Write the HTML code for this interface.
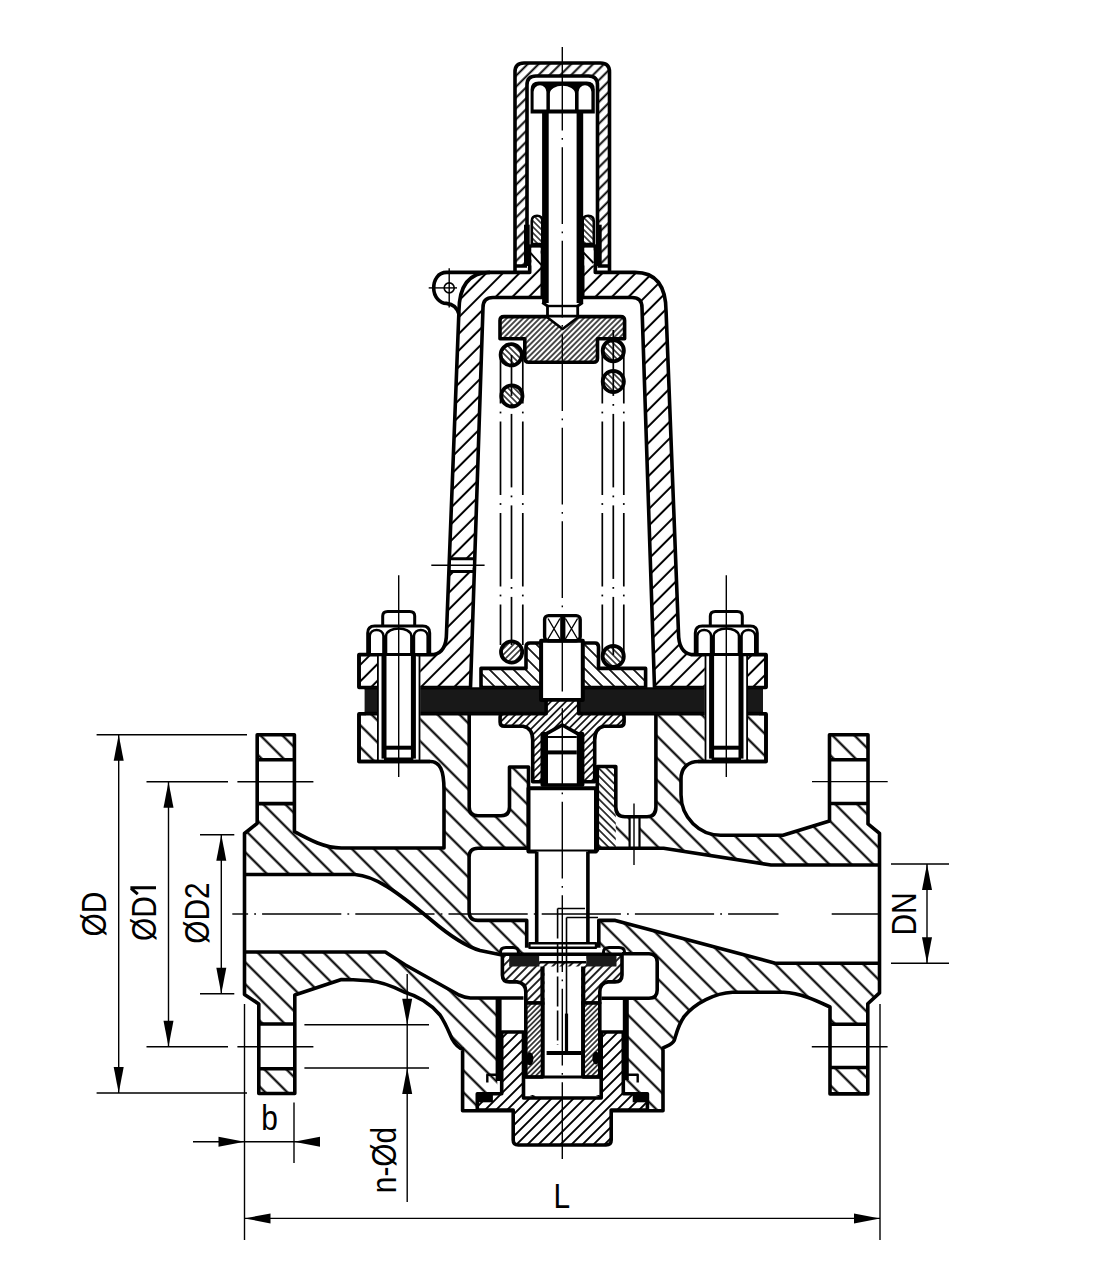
<!DOCTYPE html><html><head><meta charset="utf-8"><style>html,body{margin:0;padding:0;background:#fff;}svg{display:block;font-family:"Liberation Sans",sans-serif;}</style></head><body><svg width="1095" height="1275" viewBox="0 0 1095 1275" stroke-linecap="butt" stroke-linejoin="round"><defs><pattern id="pB" width="20" height="15.5563" patternUnits="userSpaceOnUse" patternTransform="rotate(45)"><line x1="-5" y1="9.192" x2="25" y2="9.192" stroke="#000" stroke-width="2.1"/><line x1="-5" y1="-6.364" x2="25" y2="-6.364" stroke="#000" stroke-width="2.1"/><line x1="-5" y1="24.749" x2="25" y2="24.749" stroke="#000" stroke-width="2.1"/></pattern><pattern id="pN" width="20" height="11.7380" patternUnits="userSpaceOnUse" patternTransform="rotate(-45)"><line x1="-5" y1="8.768" x2="25" y2="8.768" stroke="#000" stroke-width="2.0"/><line x1="-5" y1="-2.970" x2="25" y2="-2.970" stroke="#000" stroke-width="2.0"/><line x1="-5" y1="20.506" x2="25" y2="20.506" stroke="#000" stroke-width="2.0"/></pattern><pattern id="pC" width="20" height="7.7075" patternUnits="userSpaceOnUse" patternTransform="rotate(-45)"><line x1="-5" y1="2.263" x2="25" y2="2.263" stroke="#000" stroke-width="1.9"/><line x1="-5" y1="-5.445" x2="25" y2="-5.445" stroke="#000" stroke-width="1.9"/><line x1="-5" y1="9.970" x2="25" y2="9.970" stroke="#000" stroke-width="1.9"/></pattern><pattern id="pF" width="20" height="4.2426" patternUnits="userSpaceOnUse" patternTransform="rotate(-45)"><line x1="-5" y1="0.000" x2="25" y2="0.000" stroke="#000" stroke-width="1.3"/><line x1="-5" y1="-4.243" x2="25" y2="-4.243" stroke="#000" stroke-width="1.3"/><line x1="-5" y1="4.243" x2="25" y2="4.243" stroke="#000" stroke-width="1.3"/></pattern><pattern id="pFb" width="20" height="4.2426" patternUnits="userSpaceOnUse" patternTransform="rotate(45)"><line x1="-5" y1="0.000" x2="25" y2="0.000" stroke="#000" stroke-width="1.3"/><line x1="-5" y1="-4.243" x2="25" y2="-4.243" stroke="#000" stroke-width="1.3"/><line x1="-5" y1="4.243" x2="25" y2="4.243" stroke="#000" stroke-width="1.3"/></pattern><pattern id="pM" width="20" height="8.4853" patternUnits="userSpaceOnUse" patternTransform="rotate(45)"><line x1="-5" y1="0.000" x2="25" y2="0.000" stroke="#000" stroke-width="1.7"/><line x1="-5" y1="-8.485" x2="25" y2="-8.485" stroke="#000" stroke-width="1.7"/><line x1="-5" y1="8.485" x2="25" y2="8.485" stroke="#000" stroke-width="1.7"/></pattern><pattern id="pT" width="20" height="5.3033" patternUnits="userSpaceOnUse" patternTransform="rotate(-45)"><line x1="-5" y1="0.000" x2="25" y2="0.000" stroke="#000" stroke-width="1.6"/><line x1="-5" y1="-5.303" x2="25" y2="-5.303" stroke="#000" stroke-width="1.6"/><line x1="-5" y1="5.303" x2="25" y2="5.303" stroke="#000" stroke-width="1.6"/></pattern><pattern id="pG" width="20" height="5.4447" patternUnits="userSpaceOnUse" patternTransform="rotate(45)"><line x1="-5" y1="0.000" x2="25" y2="0.000" stroke="#000" stroke-width="1.5"/><line x1="-5" y1="-5.445" x2="25" y2="-5.445" stroke="#000" stroke-width="1.5"/><line x1="-5" y1="5.445" x2="25" y2="5.445" stroke="#000" stroke-width="1.5"/></pattern><pattern id="pDH" width="20" height="5.8690" patternUnits="userSpaceOnUse" patternTransform="rotate(-45)"><line x1="-5" y1="0.000" x2="25" y2="0.000" stroke="#000" stroke-width="1.7"/><line x1="-5" y1="-5.869" x2="25" y2="-5.869" stroke="#000" stroke-width="1.7"/><line x1="-5" y1="5.869" x2="25" y2="5.869" stroke="#000" stroke-width="1.7"/></pattern><pattern id="pP" width="20" height="7.7782" patternUnits="userSpaceOnUse" patternTransform="rotate(-45)"><line x1="-5" y1="0.000" x2="25" y2="0.000" stroke="#000" stroke-width="1.9"/><line x1="-5" y1="-7.778" x2="25" y2="-7.778" stroke="#000" stroke-width="1.9"/><line x1="-5" y1="7.778" x2="25" y2="7.778" stroke="#000" stroke-width="1.9"/></pattern><pattern id="pS" width="20" height="3.6062" patternUnits="userSpaceOnUse" patternTransform="rotate(-45)"><line x1="-5" y1="0.000" x2="25" y2="0.000" stroke="#000" stroke-width="1.4"/><line x1="-5" y1="-3.606" x2="25" y2="-3.606" stroke="#000" stroke-width="1.4"/><line x1="-5" y1="3.606" x2="25" y2="3.606" stroke="#000" stroke-width="1.4"/></pattern><pattern id="pU" width="20" height="3.8891" patternUnits="userSpaceOnUse" patternTransform="rotate(-45)"><line x1="-5" y1="0.000" x2="25" y2="0.000" stroke="#000" stroke-width="1.4"/><line x1="-5" y1="-3.889" x2="25" y2="-3.889" stroke="#000" stroke-width="1.4"/><line x1="-5" y1="3.889" x2="25" y2="3.889" stroke="#000" stroke-width="1.4"/></pattern></defs><rect width="1095" height="1275" fill="#fff"/><path d="M257.2,734.7 H294.4 V831.6 C310,840 325,848 341.4,848 H444 V790 C444,770 440,761.5 430,761.5 H359 V713.8 H766 V761.5 H698.6 C688,761.5 681,768 681,779 V794.8 C681,818 700,835.3 720.5,835.3 H783 L829.5,821 V734.8 H868 V823.9 L879.5,833.4 V992.9 L867.8,1003.8 V1093.9 H830 V1007 C815,1000 800,993 783.7,992.2 H732.5 C715,993 695,1003 684.3,1016.4 C678,1025 676,1035 674.2,1040.5 C672,1045 666,1046 663,1048 V1110.8 H462.6 V1049 C458,1048 455,1044 452,1038.8 C448,1030 446,1024 440,1015 C430,1003 418,996 404,992 C392,986 380,981.5 368.8,980.8 C358,980 350,979.5 341.4,979.5 L294.8,995 V1093.5 H258.8 V1004 L244.5,994.4 V833.5 L257.2,823.3 Z" fill="#fff" stroke="none" />
<path d="M257.2,734.7 H294.4 V831.6 C310,840 325,848 341.4,848 H444 V790 C444,770 440,761.5 430,761.5 H359 V713.8 H766 V761.5 H698.6 C688,761.5 681,768 681,779 V794.8 C681,818 700,835.3 720.5,835.3 H783 L829.5,821 V734.8 H868 V823.9 L879.5,833.4 V992.9 L867.8,1003.8 V1093.9 H830 V1007 C815,1000 800,993 783.7,992.2 H732.5 C715,993 695,1003 684.3,1016.4 C678,1025 676,1035 674.2,1040.5 C672,1045 666,1046 663,1048 V1110.8 H462.6 V1049 C458,1048 455,1044 452,1038.8 C448,1030 446,1024 440,1015 C430,1003 418,996 404,992 C392,986 380,981.5 368.8,980.8 C358,980 350,979.5 341.4,979.5 L294.8,995 V1093.5 H258.8 V1004 L244.5,994.4 V833.5 L257.2,823.3 Z" fill="url(#pB)" stroke="none" />
<path d="M258.5,759.8 H294.4 V803.6 H258.5 Z" fill="#fff" stroke="none"/>
<path d="M258.5,1024 H294.4 V1068.8 H258.5 Z" fill="#fff" stroke="none"/>
<path d="M830,759.8 H868 V803.5 H830 Z" fill="#fff" stroke="none"/>
<path d="M830,1024.3 H868 V1067.5 H830 Z" fill="#fff" stroke="none"/>
<path d="M244.5,874.5 H355 C375,876 395,890 431.8,920.5 C450,936 465,946 480,950.5 L499,953.7 H649 Q657.2,953.7 657.2,962 V990 Q657.2,998.3 649,998.3 H624.3 V1095 H497.3 V998 H470.3 C466,997.6 463,996.8 459,995 L405,964.7 L385.3,952 H244.5 Z" fill="#fff" stroke="none"/>
<path d="M478,848.2 H663.6 L771,865 H880 V963.2 H775.3 L615.3,920.4 H598.8 V953.7 H526.7 V920.4 H478 Q469.1,920.4 469.1,911.5 V857 Q469.1,848.2 478,848.2 Z" fill="#fff" stroke="none"/>
<path d="M469.2,712 H532.7 V767 H509.5 V807 Q509.5,815.7 501,815.7 H478 Q469.2,815.7 469.2,807 Z" fill="#fff" stroke="none"/>
<path d="M592.3,712 H655.9 V807 Q655.9,816.7 647,816.7 H625 Q616.4,816.7 616.4,807 V766.5 H592.3 Z" fill="#fff" stroke="none"/>
<path d="M527,766.5 H597.3 V851.5 H527 Z" fill="#fff" stroke="none"/>
<path d="M597.3,766.5 H615.8 V848.2 H597.3 Z" fill="#fff" stroke="none" />
<path d="M597.3,766.5 H615.8 V848.2 H597.3 Z" fill="url(#pG)" stroke="none" />
<path d="M629.6,816.7 H639.5 V848.2 H629.6 Z" fill="#fff" stroke="none"/>
<path d="M257.2,734.7 H294.4 V831.6 C310,840 325,848 341.4,848 H444 V790 C444,770 440,761.5 430,761.5 H359 V713.8 H766 V761.5 H698.6 C688,761.5 681,768 681,779 V794.8 C681,818 700,835.3 720.5,835.3 H783 L829.5,821 V734.8 H868 V823.9 L879.5,833.4 V992.9 L867.8,1003.8 V1093.9 H830 V1007 C815,1000 800,993 783.7,992.2 H732.5 C715,993 695,1003 684.3,1016.4 C678,1025 676,1035 674.2,1040.5 C672,1045 666,1046 663,1048 V1110.8 H462.6 V1049 C458,1048 455,1044 452,1038.8 C448,1030 446,1024 440,1015 C430,1003 418,996 404,992 C392,986 380,981.5 368.8,980.8 C358,980 350,979.5 341.4,979.5 L294.8,995 V1093.5 H258.8 V1004 L244.5,994.4 V833.5 L257.2,823.3 Z" fill="none" stroke="#000" stroke-width="3.6" />
<path d="M258.8,759.8 H294.4 M258.8,803.6 H294.4 M258.8,1024 H294.4 M258.8,1068.8 H294.4" fill="none" stroke="#000" stroke-width="3.6" />
<path d="M830,759.8 H868 M830,803.5 H868 M830,1024.3 H868 M830,1067.5 H868" fill="none" stroke="#000" stroke-width="3.6" />
<path d="M244.5,874.5 H355 C375,876 395,890 431.8,920.5 C450,936 465,946 480,950.5 L502,955" fill="none" stroke="#000" stroke-width="3.6" />
<path d="M244.5,952 H385.3 L405,964.7 L459,995 C463,996.8 466,997.6 470.3,998 H523.5" fill="none" stroke="#000" stroke-width="3.6" />
<path d="M498.6,998 V1081" fill="none" stroke="#000" stroke-width="6" />
<path d="M625.8,997 V1080" fill="none" stroke="#000" stroke-width="6" />
<path d="M601.4,998.3 H649 Q657.2,998.3 657.2,990 V962 Q657.2,953.7 649,953.7 H622" fill="none" stroke="#000" stroke-width="3.6" />
<path d="M478,848.2 H663.6 L771,865 H880" fill="none" stroke="#000" stroke-width="3.6" />
<path d="M880,963.2 H775.3 L615.3,920.4 H598.8 V947.8 M526.7,947.8 V920.4 H478 Q469.1,920.4 469.1,911.5 V857 Q469.1,848.2 478,848.2" fill="none" stroke="#000" stroke-width="3.6" />
<path d="M469.2,712 V807 Q469.2,815.7 478,815.7 H501 Q509.5,815.7 509.5,807 V767 H528.5 V851.5" fill="none" stroke="#000" stroke-width="3.6" />
<path d="M597.3,851.5 V766.5 H615.8 V807 Q615.8,816.7 625,816.7 H647 Q655.9,816.7 655.9,807 V712" fill="none" stroke="#000" stroke-width="3.6" />
<path d="M629.6,816.7 V848.2 M639.5,816.7 V848.2" fill="none" stroke="#000" stroke-width="2.2" />
<line x1="634" y1="803.6" x2="634" y2="865" stroke="#000" stroke-width="1.4" />
<path d="M359,654.6 H434 Q446.5,652 446.5,633 L458.9,312 Q458.9,272.4 490,272.4 H529.7 V246 H542.3 V297.5 H493 Q483,297.5 483,307.5 L470.5,687.5 H359 Z" fill="#fff" stroke="none" />
<path d="M359,654.6 H434 Q446.5,652 446.5,633 L458.9,312 Q458.9,272.4 490,272.4 H529.7 V246 H542.3 V297.5 H493 Q483,297.5 483,307.5 L470.5,687.5 H359 Z" fill="url(#pN)" stroke="none" />
<path d=" M766.0,654.6 H691.0 Q678.5,652 678.5,633 L666.1,312 Q666.1,272.4 635.0,272.4 H595.3 V246 H582.7 V297.5 H632.0 Q642.0,297.5 642.0,307.5 L654.5,687.5 H766.0 Z" fill="#fff" stroke="none" />
<path d=" M766.0,654.6 H691.0 Q678.5,652 678.5,633 L666.1,312 Q666.1,272.4 635.0,272.4 H595.3 V246 H582.7 V297.5 H632.0 Q642.0,297.5 642.0,307.5 L654.5,687.5 H766.0 Z" fill="url(#pN)" stroke="none" />
<path d="M359,654.6 H434 Q446.5,652 446.5,633 L458.9,312 Q458.9,272.4 490,272.4 H529.7 V246 H542.3 V297.5 H493 Q483,297.5 483,307.5 L470.5,687.5 H359 Z" fill="none" stroke="#000" stroke-width="3.6" />
<path d=" M766.0,654.6 H691.0 Q678.5,652 678.5,633 L666.1,312 Q666.1,272.4 635.0,272.4 H595.3 V246 H582.7 V297.5 H632.0 Q642.0,297.5 642.0,307.5 L654.5,687.5 H766.0 Z" fill="none" stroke="#000" stroke-width="3.6" />
<path d="M490,272.4 H446.5 C438,272.4 433.7,280 433.7,288 C433.7,297 440,303.4 446.5,303.4 C452,304 457,307 458.9,314" fill="none" stroke="#000" stroke-width="3.6" />
<circle cx="449.2" cy="287.9" r="5" fill="none" stroke="#000" stroke-width="1.6"/>
<line x1="428.7" y1="287.9" x2="457" y2="287.9" stroke="#000" stroke-width="1.4" />
<line x1="449.2" y1="268.2" x2="449.2" y2="307.5" stroke="#000" stroke-width="1.4" />
<path d="M515,271.4 V72 Q515,63 524,63 H600.5 Q609.5,63 609.5,72 V266 H597.5 V85 Q597.5,76 588.5,76 H536 Q527,76 527,85 V266 H515 Z" fill="#fff" stroke="none" />
<path d="M515,271.4 V72 Q515,63 524,63 H600.5 Q609.5,63 609.5,72 V266 H597.5 V85 Q597.5,76 588.5,76 H536 Q527,76 527,85 V266 H515 Z" fill="url(#pC)" stroke="none" />
<path d="M515,271.4 V72 Q515,63 524,63 H600.5 Q609.5,63 609.5,72 V271.4" fill="none" stroke="#000" stroke-width="3.6" />
<path d="M527,266 V85 Q527,76 536,76 H588.5 Q597.5,76 597.5,85 V266" fill="none" stroke="#000" stroke-width="3.6" />
<path d="M515,266 H527 M597.5,266 H609.5" fill="none" stroke="#000" stroke-width="3.6" />
<rect x="524" y="224.7" width="5.7" height="41.3" rx="0" fill="#000" stroke="#000" stroke-width="0" />
<rect x="596" y="224.7" width="5.7" height="41.3" rx="0" fill="#000" stroke="#000" stroke-width="0" />
<path d="M531.5,247.8 H540.5 V265.5 H531.5 Z" fill="#fff" stroke="none"/>
<path d="M584.5,247.8 H593.5 V265.5 H584.5 Z" fill="#fff" stroke="none"/>
<line x1="530.5" y1="253" x2="541.8" y2="265.3" stroke="#000" stroke-width="1.9" />
<line x1="583.4" y1="252.5" x2="593.5" y2="263" stroke="#000" stroke-width="1.9" />
<path d="M531.8,244 V221 Q531.8,215.8 537.05,215.8 Q542.3,215.8 542.3,221 V244 Z" fill="#fff" stroke="none" />
<path d="M531.8,244 V221 Q531.8,215.8 537.05,215.8 Q542.3,215.8 542.3,221 V244 Z" fill="url(#pFb)" stroke="none" />
<path d="M531.8,244 V221 Q531.8,215.8 537.05,215.8 Q542.3,215.8 542.3,221 V244 Z" fill="none" stroke="#000" stroke-width="2.6" />
<path d="M582.7,244 V221 Q582.7,215.8 588.25,215.8 Q593.8,215.8 593.8,221 V244 Z" fill="#fff" stroke="none" />
<path d="M582.7,244 V221 Q582.7,215.8 588.25,215.8 Q593.8,215.8 593.8,221 V244 Z" fill="url(#pFb)" stroke="none" />
<path d="M582.7,244 V221 Q582.7,215.8 588.25,215.8 Q593.8,215.8 593.8,221 V244 Z" fill="none" stroke="#000" stroke-width="2.6" />
<path d="M530.6,113.6 V89.6 Q530.6,81.6 538.6,81.6 H586.8 Q594.8,81.6 594.8,89.6 V113.6 Z" fill="#000"/>
<path d="M533.6,109.6 V91.7 A6.4,6.4 0 0 1 546.4,91.7 V109.6 Z M549.9,109.6 V93.4 A12.55,7.6 0 0 1 575,93.4 V109.6 Z M578.6,109.6 V91.7 A6.4,6.4 0 0 1 591.4,91.7 V109.6 Z" fill="#fff"/>
<rect x="542.1" y="113" width="6.6" height="190" rx="0" fill="#000" stroke="#000" stroke-width="0" />
<rect x="576.6" y="113" width="6.6" height="190" rx="0" fill="#000" stroke="#000" stroke-width="0" />
<path d="M542.3,302.5 L547.5,306 V316.6 M577.7,316.6 V306 L582.7,302.5" fill="none" stroke="#000" stroke-width="2.8" />
<path d="M547.5,306 H577.7" fill="none" stroke="#000" stroke-width="2.4" />
<path d="M504,316.6 H620.6 Q624.6,316.6 624.6,320.6 V338.8 H597.5 V358.2 Q597.5,362.2 593.5,362.2 H528.8 Q524.8,362.2 524.8,358.2 V338.8 H500 V320.6 Q500,316.6 504,316.6 Z" fill="#fff" stroke="none" />
<path d="M504,316.6 H620.6 Q624.6,316.6 624.6,320.6 V338.8 H597.5 V358.2 Q597.5,362.2 593.5,362.2 H528.8 Q524.8,362.2 524.8,358.2 V338.8 H500 V320.6 Q500,316.6 504,316.6 Z" fill="url(#pU)" stroke="none" />
<path d="M504,316.6 H620.6 Q624.6,316.6 624.6,320.6 V338.8 H597.5 V358.2 Q597.5,362.2 593.5,362.2 H528.8 Q524.8,362.2 524.8,358.2 V338.8 H500 V320.6 Q500,316.6 504,316.6 Z" fill="none" stroke="#000" stroke-width="3.6" />
<path d="M547.5,317.5 L562.6,329 L577.7,317.5 Z" fill="#fff" stroke="none"/>
<path d="M547.5,317.5 L562.6,329 L577.7,317.5" fill="none" stroke="#000" stroke-width="2.6" />
<circle cx="511.2" cy="354.8" r="10.6" fill="#fff" stroke="none"/>
<circle cx="511.2" cy="354.8" r="10.6" fill="url(#pFb)" stroke="#000" stroke-width="3.8"/>
<circle cx="511.9" cy="395.9" r="10.6" fill="#fff" stroke="none"/>
<circle cx="511.9" cy="395.9" r="10.6" fill="url(#pFb)" stroke="#000" stroke-width="3.8"/>
<circle cx="613.3" cy="350.7" r="10.6" fill="#fff" stroke="none"/>
<circle cx="613.3" cy="350.7" r="10.6" fill="url(#pFb)" stroke="#000" stroke-width="3.8"/>
<circle cx="613.3" cy="381.5" r="10.6" fill="#fff" stroke="none"/>
<circle cx="613.3" cy="381.5" r="10.6" fill="url(#pFb)" stroke="#000" stroke-width="3.8"/>
<circle cx="511.6" cy="652" r="10.6" fill="#fff" stroke="none"/>
<circle cx="511.6" cy="652" r="10.6" fill="url(#pF)" stroke="#000" stroke-width="3.8"/>
<circle cx="613.2" cy="656.4" r="10.6" fill="#fff" stroke="none"/>
<circle cx="613.2" cy="656.4" r="10.6" fill="url(#pFb)" stroke="#000" stroke-width="3.8"/>
<line x1="500.5" y1="355" x2="500.5" y2="403.5" stroke="#000" stroke-width="1.7" />
<line x1="500.5" y1="411.6" x2="500.5" y2="413.4" stroke="#000" stroke-width="1.7" />
<line x1="500.5" y1="421.5" x2="500.5" y2="495.0" stroke="#000" stroke-width="1.7" />
<line x1="500.5" y1="503.1" x2="500.5" y2="504.9" stroke="#000" stroke-width="1.7" />
<line x1="500.5" y1="513.0" x2="500.5" y2="586.5" stroke="#000" stroke-width="1.7" />
<line x1="500.5" y1="594.6" x2="500.5" y2="596.4" stroke="#000" stroke-width="1.7" />
<line x1="500.5" y1="604.5" x2="500.5" y2="645" stroke="#000" stroke-width="1.7" />
<line x1="511.5" y1="355" x2="511.5" y2="395.9" stroke="#000" stroke-width="1.7" />
<line x1="511.5" y1="404.0" x2="511.5" y2="405.8" stroke="#000" stroke-width="1.7" />
<line x1="511.5" y1="413.9" x2="511.5" y2="487.4" stroke="#000" stroke-width="1.7" />
<line x1="511.5" y1="495.5" x2="511.5" y2="497.3" stroke="#000" stroke-width="1.7" />
<line x1="511.5" y1="505.4" x2="511.5" y2="578.9" stroke="#000" stroke-width="1.7" />
<line x1="511.5" y1="587.0" x2="511.5" y2="588.8" stroke="#000" stroke-width="1.7" />
<line x1="511.5" y1="596.9" x2="511.5" y2="645" stroke="#000" stroke-width="1.7" />
<line x1="522.8" y1="355" x2="522.8" y2="403.5" stroke="#000" stroke-width="1.7" />
<line x1="522.8" y1="411.6" x2="522.8" y2="413.4" stroke="#000" stroke-width="1.7" />
<line x1="522.8" y1="421.5" x2="522.8" y2="495.0" stroke="#000" stroke-width="1.7" />
<line x1="522.8" y1="503.1" x2="522.8" y2="504.9" stroke="#000" stroke-width="1.7" />
<line x1="522.8" y1="513.0" x2="522.8" y2="586.5" stroke="#000" stroke-width="1.7" />
<line x1="522.8" y1="594.6" x2="522.8" y2="596.4" stroke="#000" stroke-width="1.7" />
<line x1="522.8" y1="604.5" x2="522.8" y2="645" stroke="#000" stroke-width="1.7" />
<line x1="602.3" y1="350" x2="602.3" y2="403.5" stroke="#000" stroke-width="1.7" />
<line x1="602.3" y1="411.6" x2="602.3" y2="413.4" stroke="#000" stroke-width="1.7" />
<line x1="602.3" y1="421.5" x2="602.3" y2="495.0" stroke="#000" stroke-width="1.7" />
<line x1="602.3" y1="503.1" x2="602.3" y2="504.9" stroke="#000" stroke-width="1.7" />
<line x1="602.3" y1="513.0" x2="602.3" y2="586.5" stroke="#000" stroke-width="1.7" />
<line x1="602.3" y1="594.6" x2="602.3" y2="596.4" stroke="#000" stroke-width="1.7" />
<line x1="602.3" y1="604.5" x2="602.3" y2="655" stroke="#000" stroke-width="1.7" />
<line x1="613.3" y1="330" x2="613.3" y2="395.9" stroke="#000" stroke-width="1.7" />
<line x1="613.3" y1="404.0" x2="613.3" y2="405.8" stroke="#000" stroke-width="1.7" />
<line x1="613.3" y1="413.9" x2="613.3" y2="487.4" stroke="#000" stroke-width="1.7" />
<line x1="613.3" y1="495.5" x2="613.3" y2="497.3" stroke="#000" stroke-width="1.7" />
<line x1="613.3" y1="505.4" x2="613.3" y2="578.9" stroke="#000" stroke-width="1.7" />
<line x1="613.3" y1="587.0" x2="613.3" y2="588.8" stroke="#000" stroke-width="1.7" />
<line x1="613.3" y1="596.9" x2="613.3" y2="655" stroke="#000" stroke-width="1.7" />
<line x1="623.8" y1="350" x2="623.8" y2="403.5" stroke="#000" stroke-width="1.7" />
<line x1="623.8" y1="411.6" x2="623.8" y2="413.4" stroke="#000" stroke-width="1.7" />
<line x1="623.8" y1="421.5" x2="623.8" y2="495.0" stroke="#000" stroke-width="1.7" />
<line x1="623.8" y1="503.1" x2="623.8" y2="504.9" stroke="#000" stroke-width="1.7" />
<line x1="623.8" y1="513.0" x2="623.8" y2="586.5" stroke="#000" stroke-width="1.7" />
<line x1="623.8" y1="594.6" x2="623.8" y2="596.4" stroke="#000" stroke-width="1.7" />
<line x1="623.8" y1="604.5" x2="623.8" y2="655" stroke="#000" stroke-width="1.7" />
<path d="M481,668.4 H526 V647 Q526,643 530,643 H595 Q598.5,643 598.5,647 V668.4 H645.6 V687.5 H481 Z" fill="#fff" stroke="none" />
<path d="M481,668.4 H526 V647 Q526,643 530,643 H595 Q598.5,643 598.5,647 V668.4 H645.6 V687.5 H481 Z" fill="url(#pM)" stroke="none" />
<path d="M481,668.4 H526 V647 Q526,643 530,643 H595 Q598.5,643 598.5,647 V668.4 H645.6 V687.5 H481 Z" fill="none" stroke="#000" stroke-width="3.6" />
<rect x="364.6" y="687.5" width="398.4" height="26.3" fill="#181818"/>
<path d="M364.6,688.5 H763 M364.6,712.8 H763" fill="none" stroke="#000" stroke-width="2" />
<rect x="541.1" y="640.8" width="41.7" height="59.2" rx="0" fill="#fff" stroke="#000" stroke-width="4" />
<rect x="544.6" y="615.6" width="35.6" height="25.2" rx="4" fill="#fff" stroke="#000" stroke-width="3.4" />
<rect x="560.2" y="617" width="5.2" height="23" fill="#000"/>
<path d="M548,618.5 L560,639 M560,618.5 L548,639 M565.4,618.5 L577.6,639 M577.6,618.5 L565.4,639" fill="none" stroke="#000" stroke-width="1.4" />
<path d="M384.0,611 H413.4 V760 H384.0 Z" fill="#fff" stroke="none"/>
<path d="M377.2,656.4 H420.2 V759.7 H377.2 Z" fill="#fff" stroke="none"/>
<path d="M377.9,656 V760 M419.5,656 V760" fill="none" stroke="#000" stroke-width="1.8" />
<path d="M367.7,654.6 V633 Q367.7,626 374.7,626 H422.7 Q429.7,626 429.7,633 V654.6 Z" fill="#fff" stroke="none"/>
<path d="M367.7,654.6 V633 Q367.7,626 374.7,626 H422.7 Q429.7,626 429.7,633 V654.6 Z" fill="none" stroke="#000" stroke-width="3" />
<path d="M369.7,654.6 V636 C370.2,628 383.0,628 383.5,636 V654.6 M386.0,654.6 V636 C387.0,626 410.4,626 411.4,636 V654.6 M413.9,654.6 V636 C414.4,628 427.2,628 427.7,636 V654.6" fill="none" stroke="#000" stroke-width="2.6" />
<path d="M382.7,626 V616 Q382.7,611.4 387.7,611.4 H409.7 Q414.7,611.4 414.7,616 V626" fill="none" stroke="#000" stroke-width="3" />
<rect x="381.5" y="654.6" width="5" height="104" rx="0" fill="#000" stroke="#000" stroke-width="0" />
<rect x="410.9" y="654.6" width="5" height="104" rx="0" fill="#000" stroke="#000" stroke-width="0" />
<path d="M384.0,747.7 H413.4" fill="none" stroke="#000" stroke-width="4" />
<path d="M384.0,759 H413.4" fill="none" stroke="#000" stroke-width="3" />
<line x1="398.7" y1="575.2" x2="398.7" y2="777" stroke="#000" stroke-width="1.4" />
<path d="M711.5999999999999,611 H741.0 V760 H711.5999999999999 Z" fill="#fff" stroke="none"/>
<path d="M704.8,656.4 H747.8 V759.7 H704.8 Z" fill="#fff" stroke="none"/>
<path d="M705.5,656 V760 M747.0999999999999,656 V760" fill="none" stroke="#000" stroke-width="1.8" />
<path d="M695.3,654.6 V633 Q695.3,626 702.3,626 H750.3 Q757.3,626 757.3,633 V654.6 Z" fill="#fff" stroke="none"/>
<path d="M695.3,654.6 V633 Q695.3,626 702.3,626 H750.3 Q757.3,626 757.3,633 V654.6 Z" fill="none" stroke="#000" stroke-width="3" />
<path d="M697.3,654.6 V636 C697.8,628 710.5999999999999,628 711.0999999999999,636 V654.6 M713.5999999999999,654.6 V636 C714.5999999999999,626 738.0,626 739.0,636 V654.6 M741.5,654.6 V636 C742.0,628 754.8,628 755.3,636 V654.6" fill="none" stroke="#000" stroke-width="2.6" />
<path d="M710.3,626 V616 Q710.3,611.4 715.3,611.4 H737.3 Q742.3,611.4 742.3,616 V626" fill="none" stroke="#000" stroke-width="3" />
<rect x="709.0999999999999" y="654.6" width="5" height="104" rx="0" fill="#000" stroke="#000" stroke-width="0" />
<rect x="738.5" y="654.6" width="5" height="104" rx="0" fill="#000" stroke="#000" stroke-width="0" />
<path d="M711.5999999999999,747.7 H741.0" fill="none" stroke="#000" stroke-width="4" />
<path d="M711.5999999999999,759 H741.0" fill="none" stroke="#000" stroke-width="3" />
<line x1="726.3" y1="575.2" x2="726.3" y2="777" stroke="#000" stroke-width="1.4" />
<path d="M359,654.6 V687.5 M359,713.8 V761.5 H430" fill="none" stroke="#000" stroke-width="3.6" />
<path d="M766,654.6 V687.5 M766,713.8 V761.5 H698" fill="none" stroke="#000" stroke-width="3.6" />
<path d="M359,687.5 H366 M359,713.8 H366 M759,687.5 H766 M759,713.8 H766" fill="none" stroke="#000" stroke-width="3" />
<path d="M546.1,700 H578.7 V713.8 H620 Q624.1,713.8 624.1,717 V722 Q624.1,726.2 620,726.2 H604 Q594.7,728 594.7,740 V781.8 H532.7 V740 Q532.7,728 523,726.2 H504.2 Q500.1,726.2 500.1,722 V717 Q500.1,713.8 504.2,713.8 H546.1 Z" fill="#fff" stroke="none" />
<path d="M546.1,700 H578.7 V713.8 H620 Q624.1,713.8 624.1,717 V722 Q624.1,726.2 620,726.2 H604 Q594.7,728 594.7,740 V781.8 H532.7 V740 Q532.7,728 523,726.2 H504.2 Q500.1,726.2 500.1,722 V717 Q500.1,713.8 504.2,713.8 H546.1 Z" fill="url(#pT)" stroke="none" />
<path d="M546.1,700 H578.7 V713.8 H620 Q624.1,713.8 624.1,717 V722 Q624.1,726.2 620,726.2 H604 Q594.7,728 594.7,740 V781.8 H532.7 V740 Q532.7,728 523,726.2 H504.2 Q500.1,726.2 500.1,722 V717 Q500.1,713.8 504.2,713.8 H546.1 Z" fill="none" stroke="#000" stroke-width="3.6" />
<path d="M542.3,785 V733.9 H546.1 L562.3,725 L578.1,733.9 H582.6 V785 Z" fill="#fff" stroke="none"/>
<path d="M542.3,785 V733.9 H546.1 L562.3,725 L578.1,733.9 H582.6 V785 Z" fill="none" stroke="#000" stroke-width="3.6" />
<rect x="542.3" y="735" width="5.7" height="50" fill="#000"/><rect x="576.8" y="735" width="5.8" height="50" fill="#000"/>
<path d="M548,737 H576.8" fill="none" stroke="#000" stroke-width="2" />
<path d="M548,752.4 H576.8" fill="none" stroke="#000" stroke-width="4" />
<rect x="528.5" y="788.2" width="67.5" height="63.3" rx="0" fill="#fff" stroke="#000" stroke-width="4" />
<path d="M536.7,851.5 H587.9 V943.2 H536.7 Z" fill="#fff" stroke="none"/>
<path d="M536.7,851.5 V943.2 M587.9,851.5 V943.2" fill="none" stroke="#000" stroke-width="3.6" />
<rect x="529.4" y="943.2" width="66.6" height="4.6" rx="0" fill="#fff" stroke="#000" stroke-width="2.4" />
<path d="M502.4,954.2 H622 V975 Q622,981.9 615,981.9 H608 Q599.8,983 599.8,992 V1003 H525.8 V992 Q525.8,983 517,981.9 H509.4 Q502.4,981.9 502.4,975 Z" fill="#fff" stroke="none" />
<path d="M502.4,954.2 H622 V975 Q622,981.9 615,981.9 H608 Q599.8,983 599.8,992 V1003 H525.8 V992 Q525.8,983 517,981.9 H509.4 Q502.4,981.9 502.4,975 Z" fill="url(#pDH)" stroke="none" />
<path d="M502.4,954.2 H622 V975 Q622,981.9 615,981.9 H608 Q599.8,983 599.8,992 V1003 H525.8 V992 Q525.8,983 517,981.9 H509.4 Q502.4,981.9 502.4,975 Z" fill="none" stroke="#000" stroke-width="3.6" />
<path d="M500.5,954.2 V952 Q500.5,947.4 506,947.4 H513 Q518.4,947.4 518.4,952 V954.2 M603.5,954.2 V952 Q603.5,947.4 609,947.4 H619 Q624.5,947.4 624.5,952 V954.2" fill="none" stroke="#000" stroke-width="3" />
<rect x="509.2" y="956" width="30.2" height="10.5" fill="#1a1a1a"/>
<rect x="586.2" y="956" width="30.3" height="10.5" fill="#1a1a1a"/>
<path d="M539.4,956 H586.2 V962.2 H539.4 Z" fill="#fff" stroke="none"/>
<path d="M539.4,962.2 H586.2" fill="none" stroke="#000" stroke-width="2.4" />
<path d="M544.5,966.5 H581 V1098 H544.5 Z" fill="#fff" stroke="none"/>
<path d="M542.5,966.5 V1077 M583.2,966.5 V1077" fill="none" stroke="#000" stroke-width="4.2" />
<path d="M501.7,1032 H523.5 V1098 H601.2 V1032 H623.3 V1093.8 H647.4 V1110 H611.2 V1140 Q611.2,1145 606,1145 H518.4 Q513.2,1145 513.2,1140 V1110 H477.3 V1093.8 H501.7 Z" fill="#fff" stroke="none" />
<path d="M501.7,1032 H523.5 V1098 H601.2 V1032 H623.3 V1093.8 H647.4 V1110 H611.2 V1140 Q611.2,1145 606,1145 H518.4 Q513.2,1145 513.2,1140 V1110 H477.3 V1093.8 H501.7 Z" fill="url(#pP)" stroke="none" />
<path d="M501.7,1032 H523.5 V1098 H601.2 V1032 H623.3 V1093.8 H647.4 V1110 H611.2 V1140 Q611.2,1145 606,1145 H518.4 Q513.2,1145 513.2,1140 V1110 H477.3 V1093.8 H501.7 Z" fill="none" stroke="#000" stroke-width="3.6" />
<path d="M525.8,1003 H542.5 V1077 H525.8 Z" fill="#fff" stroke="none" />
<path d="M525.8,1003 H542.5 V1077 H525.8 Z" fill="url(#pS)" stroke="none" />
<path d="M525.8,1003 H542.5 V1077 H525.8 Z" fill="none" stroke="#000" stroke-width="3.6" />
<path d="M583.2,1003 H599.8 V1077 H583.2 Z" fill="#fff" stroke="none" />
<path d="M583.2,1003 H599.8 V1077 H583.2 Z" fill="url(#pS)" stroke="none" />
<path d="M583.2,1003 H599.8 V1077 H583.2 Z" fill="none" stroke="#000" stroke-width="3.6" />
<path d="M523.5,1077 H601.2" fill="none" stroke="#000" stroke-width="3" />
<ellipse cx="529.8" cy="1058.8" rx="3.6" ry="6.5" fill="#000"/><ellipse cx="596" cy="1058" rx="3.6" ry="6.5" fill="#000"/>
<rect x="477.4" y="1093.8" width="15.5" height="8.5" fill="#000"/><rect x="632.7" y="1093.8" width="14.7" height="8.5" fill="#000"/>
<path d="M487.3,1082.5 V1074.8 H498.5 M637.7,1082.5 V1074.8 H626.5" fill="none" stroke="#000" stroke-width="2.4" />
<path d="M546.6,1053 H581" fill="none" stroke="#000" stroke-width="4" />
<path d="M557.6,908.6 H585 M566.5,917.6 H598" fill="none" stroke="#000" stroke-width="1.5" />
<line x1="557.6" y1="908.6" x2="557.6" y2="1045" stroke="#000" stroke-width="1.6" stroke-dasharray="30,4"/>
<line x1="566.5" y1="917.6" x2="566.5" y2="1052" stroke="#000" stroke-width="1.6" />
<line x1="566.5" y1="1013.6" x2="566.5" y2="1051.6" stroke="#000" stroke-width="3.2" />
<line x1="96.6" y1="734.7" x2="247" y2="734.7" stroke="#000" stroke-width="1.4" />
<line x1="96.6" y1="1093" x2="247" y2="1093" stroke="#000" stroke-width="1.4" />
<line x1="118.7" y1="734.7" x2="118.7" y2="1093" stroke="#000" stroke-width="1.4" />
<polygon points="118.7,734.7 113.7,760.7 123.7,760.7" fill="#000"/>
<polygon points="118.7,1093 113.7,1067 123.7,1067" fill="#000"/>
<line x1="146.5" y1="781.7" x2="228" y2="781.7" stroke="#000" stroke-width="1.4" />
<line x1="237.4" y1="781.7" x2="313.4" y2="781.7" stroke="#000" stroke-width="1.4" />
<line x1="146.5" y1="1046.7" x2="228" y2="1046.7" stroke="#000" stroke-width="1.4" />
<line x1="237.4" y1="1046.7" x2="313.4" y2="1046.7" stroke="#000" stroke-width="1.4" />
<line x1="168.5" y1="781.7" x2="168.5" y2="1046.7" stroke="#000" stroke-width="1.4" />
<polygon points="168.5,781.7 163.5,807.7 173.5,807.7" fill="#000"/>
<polygon points="168.5,1046.7 163.5,1020.7 173.5,1020.7" fill="#000"/>
<line x1="200" y1="834.7" x2="234.3" y2="834.7" stroke="#000" stroke-width="1.4" />
<line x1="200" y1="993.7" x2="234.3" y2="993.7" stroke="#000" stroke-width="1.4" />
<line x1="221.3" y1="834.7" x2="221.3" y2="993.7" stroke="#000" stroke-width="1.4" />
<polygon points="221.3,834.7 216.3,860.7 226.3,860.7" fill="#000"/>
<polygon points="221.3,993.7 216.3,967.7 226.3,967.7" fill="#000"/>
<line x1="891" y1="864" x2="949" y2="864" stroke="#000" stroke-width="1.4" />
<line x1="891" y1="963.2" x2="949" y2="963.2" stroke="#000" stroke-width="1.4" />
<line x1="927" y1="864" x2="927" y2="963.2" stroke="#000" stroke-width="1.4" />
<polygon points="927,864 922,890 932,890" fill="#000"/>
<polygon points="927,963.2 922,937.2 932,937.2" fill="#000"/>
<line x1="244.5" y1="1004" x2="244.5" y2="1240" stroke="#000" stroke-width="1.4" />
<line x1="880" y1="1004" x2="880" y2="1240" stroke="#000" stroke-width="1.4" />
<line x1="244.5" y1="1218.4" x2="880" y2="1218.4" stroke="#000" stroke-width="1.4" />
<polygon points="244.5,1218.4 270.5,1213.4 270.5,1223.4" fill="#000"/>
<polygon points="880,1218.4 854,1213.4 854,1223.4" fill="#000"/>
<line x1="294" y1="1102.5" x2="294" y2="1163" stroke="#000" stroke-width="1.4" />
<line x1="193" y1="1141.7" x2="320" y2="1141.7" stroke="#000" stroke-width="1.4" />
<polygon points="244.5,1141.7 218.5,1136.7 218.5,1146.7" fill="#000"/>
<polygon points="294,1141.7 320,1136.7 320,1146.7" fill="#000"/>
<line x1="304.4" y1="1024.7" x2="429" y2="1024.7" stroke="#000" stroke-width="1.4" />
<line x1="304.4" y1="1068" x2="429" y2="1068" stroke="#000" stroke-width="1.4" />
<line x1="407.2" y1="974" x2="407.2" y2="1202" stroke="#000" stroke-width="1.4" />
<polygon points="407.2,1024.7 402.2,998.7 412.2,998.7" fill="#000"/>
<polygon points="407.2,1068 402.2,1094 412.2,1094" fill="#000"/>
<line x1="812" y1="781.6" x2="887.7" y2="781.6" stroke="#000" stroke-width="1.4" />
<line x1="811.8" y1="1046.7" x2="887.6" y2="1046.7" stroke="#000" stroke-width="1.4" />
<line x1="232.3" y1="914" x2="248.1" y2="914" stroke="#000" stroke-width="1.4" />
<line x1="254.2" y1="914" x2="256.0" y2="914" stroke="#000" stroke-width="1.4" />
<line x1="262.1" y1="914" x2="341.3" y2="914" stroke="#000" stroke-width="1.4" />
<line x1="347.4" y1="914" x2="349.2" y2="914" stroke="#000" stroke-width="1.4" />
<line x1="355.3" y1="914" x2="434.5" y2="914" stroke="#000" stroke-width="1.4" />
<line x1="440.6" y1="914" x2="442.4" y2="914" stroke="#000" stroke-width="1.4" />
<line x1="448.5" y1="914" x2="527.7" y2="914" stroke="#000" stroke-width="1.4" />
<line x1="533.8" y1="914" x2="535.6" y2="914" stroke="#000" stroke-width="1.4" />
<line x1="541.7" y1="914" x2="620.9" y2="914" stroke="#000" stroke-width="1.4" />
<line x1="627.0" y1="914" x2="628.8" y2="914" stroke="#000" stroke-width="1.4" />
<line x1="634.9" y1="914" x2="714.1" y2="914" stroke="#000" stroke-width="1.4" />
<line x1="720.2" y1="914" x2="722.0" y2="914" stroke="#000" stroke-width="1.4" />
<line x1="728.1" y1="914" x2="778.5" y2="914" stroke="#000" stroke-width="1.4" />
<line x1="831.7" y1="914" x2="879" y2="914" stroke="#000" stroke-width="1.4" />
<line x1="562.3" y1="47" x2="562.3" y2="130.6" stroke="#000" stroke-width="1.4" />
<line x1="562.3" y1="138.0" x2="562.3" y2="139.8" stroke="#000" stroke-width="1.4" />
<line x1="562.3" y1="147.2" x2="562.3" y2="224.1" stroke="#000" stroke-width="1.4" />
<line x1="562.3" y1="231.5" x2="562.3" y2="233.3" stroke="#000" stroke-width="1.4" />
<line x1="562.3" y1="240.7" x2="562.3" y2="317.6" stroke="#000" stroke-width="1.4" />
<line x1="562.3" y1="325.0" x2="562.3" y2="326.8" stroke="#000" stroke-width="1.4" />
<line x1="562.3" y1="334.2" x2="562.3" y2="411.1" stroke="#000" stroke-width="1.4" />
<line x1="562.3" y1="418.5" x2="562.3" y2="420.3" stroke="#000" stroke-width="1.4" />
<line x1="562.3" y1="427.7" x2="562.3" y2="504.6" stroke="#000" stroke-width="1.4" />
<line x1="562.3" y1="512.0" x2="562.3" y2="513.8" stroke="#000" stroke-width="1.4" />
<line x1="562.3" y1="521.2" x2="562.3" y2="598.1" stroke="#000" stroke-width="1.4" />
<line x1="562.3" y1="605.5" x2="562.3" y2="607.3" stroke="#000" stroke-width="1.4" />
<line x1="562.3" y1="614.7" x2="562.3" y2="691.6" stroke="#000" stroke-width="1.4" />
<line x1="562.3" y1="699.0" x2="562.3" y2="700.8" stroke="#000" stroke-width="1.4" />
<line x1="562.3" y1="708.2" x2="562.3" y2="785.1" stroke="#000" stroke-width="1.4" />
<line x1="562.3" y1="792.5" x2="562.3" y2="794.3" stroke="#000" stroke-width="1.4" />
<line x1="562.3" y1="801.7" x2="562.3" y2="878.6" stroke="#000" stroke-width="1.4" />
<line x1="562.3" y1="886.0" x2="562.3" y2="887.8" stroke="#000" stroke-width="1.4" />
<line x1="562.3" y1="895.2" x2="562.3" y2="972.1" stroke="#000" stroke-width="1.4" />
<line x1="562.3" y1="979.5" x2="562.3" y2="981.3" stroke="#000" stroke-width="1.4" />
<line x1="562.3" y1="988.7" x2="562.3" y2="1065.6" stroke="#000" stroke-width="1.4" />
<line x1="562.3" y1="1073.0" x2="562.3" y2="1074.8" stroke="#000" stroke-width="1.4" />
<line x1="562.3" y1="1082.2" x2="562.3" y2="1159.1" stroke="#000" stroke-width="1.4" />
<path d="M451,559.5 H472.5 V571 H451 Z" fill="#fff" stroke="none"/>
<path d="M448,558.7 H475 M448,571.6 H475" fill="none" stroke="#000" stroke-width="3" />
<line x1="431.3" y1="565.3" x2="484.6" y2="565.3" stroke="#000" stroke-width="1.4" />
<text transform="translate(106,914) rotate(-90) scale(0.83,1)" font-family="Liberation Sans" font-size="36" text-anchor="middle">ØD</text>
<text transform="translate(156,941) rotate(-90) scale(0.83,1)" font-family="Liberation Sans" font-size="36">ØD</text>
<path d="M130.4,887.8 H156 M131,888.3 L137.8,894.2" fill="none" stroke="#000" stroke-width="3" stroke-linecap="butt"/>
<text transform="translate(209,913) rotate(-90) scale(0.83,1)" font-family="Liberation Sans" font-size="36" text-anchor="middle">ØD2</text>
<text transform="translate(916,914) rotate(-90) scale(0.83,1)" font-family="Liberation Sans" font-size="36" text-anchor="middle">DN</text>
<text transform="translate(395.7,1160) rotate(-90) scale(0.83,1)" font-family="Liberation Sans" font-size="36" text-anchor="middle">n-Ød</text>
<text transform="translate(561.9,1207.7) scale(0.83,1)" font-family="Liberation Sans" font-size="36" text-anchor="middle">L</text>
<text transform="translate(269.5,1130) scale(0.83,1)" font-family="Liberation Sans" font-size="36" text-anchor="middle">b</text></svg></body></html>
